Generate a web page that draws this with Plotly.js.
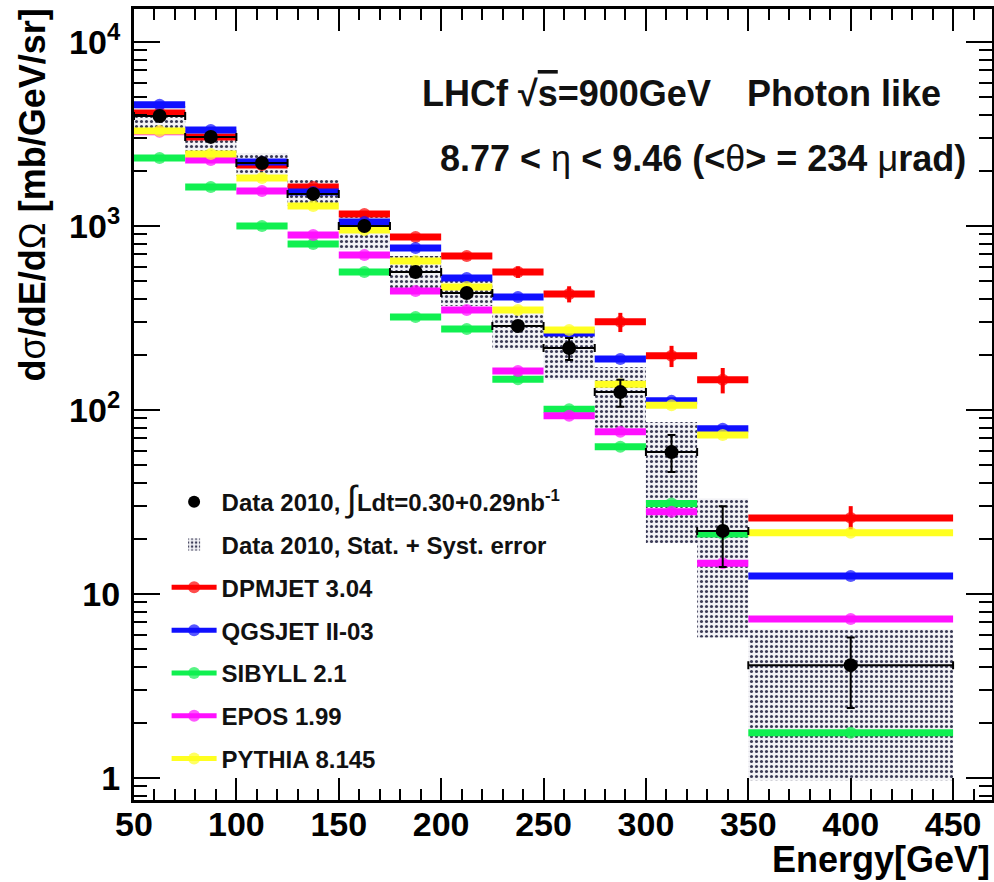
<!DOCTYPE html>
<html>
<head>
<meta charset="utf-8">
<script src="https://cdn.plot.ly/plotly-3.0.1.min.js"></script>
<style>html,body{margin:0;padding:0;background:#fff;}#chart{width:994px;height:882px;}</style>
</head>
<body>
<div id="chart"></div>
<script>
// ---- data ----
const binLow    = [50, 75, 100, 125, 150, 175, 200, 225, 250, 275, 300, 325, 350];
const binHigh   = [75, 100, 125, 150, 175, 200, 225, 250, 275, 300, 325, 350, 450];
const binCenter = [62.5, 87.5, 112.5, 137.5, 162.5, 187.5, 212.5, 237.5, 262.5, 287.5, 312.5, 337.5, 400];

const data2010      = [3960, 3047, 2200, 1493, 1000, 562, 432, 286, 217, 125, 59, 22, 4.1];
const dataErrPlus   = [60, 50, 40, 30, 25, 18, 16, 14, 29, 21, 14, 8, 1.7];
const dataErrMinus  = [60, 50, 40, 30, 25, 18, 16, 14, 30, 21, 13, 8, 1.7];
const sysLow        = [3410, 2494, 1871, 1284, 740, 449, 367, 212, 146, 80, 18.9, 5.8, 0.97];
const sysHigh       = [4487, 3410, 2494, 1778, 1192, 687, 509, 341, 256, 171, 86, 33, 6.4];

const dpmjet  = [4110, 3045, 2146, 1630, 1162, 871, 687, 562, 427, 301, 197, 146, 25.9];
const dpmjetErr = [60, 50, 40, 35, 30, 30, 30, 40, 43, 36, 26, 23, 4.1];
const qgsjet  = [4550, 3325, 2228, 1530, 1052, 759, 522, 411, 262, 189, 112, 79, 12.5];
const sibyll  = [2340, 1630, 1000, 798, 562, 320, 275, 147, 101, 63, 31, 21.2, 1.76];
const epos    = [3250, 2285, 1550, 893, 696, 443, 349, 163, 93, 76, 28, 14.7, 7.3];
const pythia  = [3280, 2460, 1823, 1285, 951, 645, 466, 349, 272, 138, 106, 73, 21.5];

const xTickVals = [50, 100, 150, 200, 250, 300, 350, 400, 450];
const yTickVals = [1, 10, 100, 1000, 10000];
const yTickText = ['1', '10', '10<sup>2</sup>', '10<sup>3</sup>', '10<sup>4</sup>'];

// ---- helpers ----
const FONT = 'Liberation Sans, Arial, Helvetica, sans-serif';
function stepTrace(vals, name, color, rank, errs) {
  const x = [], y = [], s = [], e = [];
  for (let i = 0; i < vals.length; i++) {
    x.push(binLow[i], binCenter[i], binHigh[i], null);
    y.push(vals[i], vals[i], vals[i], null);
    s.push(0, 12, 0, 0);
    e.push(0, errs ? errs[i] : 0, 0, null);
  }
  const t = {
    type: 'scatter', mode: 'lines+markers', name: name, x: x, y: y,
    line: {color: color, width: 7}, marker: {color: color, size: s, line: {width: 0}},
    connectgaps: false, legendgroup: name, legendrank: rank, hoverinfo: 'skip'
  };
  if (errs) t.error_y = {type: 'data', array: e, visible: true, color: color, thickness: 4, width: 0};
  return t;
}

const minorY = [];
[0.1, 1, 10, 100, 1000, 10000].forEach(d => { for (let k = 2; k <= 9; k++) minorY.push(d * k); });

const traces = [];
traces.push({
  type: 'bar', name: 'Data 2010, Stat. + Syst. error',
  x: binCenter, base: sysLow, y: sysHigh.map((h, i) => h - sysLow[i]),
  width: binHigh.map((h, i) => h - binLow[i]),
  marker: {color: '#eeeef3', line: {width: 0},
           pattern: {shape: '.', fgcolor: '#3a3a55', bgcolor: '#f2f2f6', size: 5, solidity: 0.3, fillmode: 'replace'}},
  legendgroup: 'box', legendrank: 2, hoverinfo: 'skip'
});
traces.push(stepTrace(dpmjet, 'DPMJET 3.04', '#ff0000', 3, dpmjetErr));
traces.push(stepTrace(qgsjet, 'QGSJET II-03', '#1010ff', 4));
traces.push(stepTrace(sibyll, 'SIBYLL 2.1', '#10f050', 5));
traces.push(stepTrace(epos, 'EPOS 1.99', '#ff10ff', 6));
traces.push(stepTrace(pythia, 'PYTHIA 8.145', '#ffff20', 7));
traces.push({
  type: 'scatter', mode: 'markers',
  name: 'Data 2010, <span style="font-size:36px;font-weight:normal">∫</span>Ldt=0.30+0.29nb<sup>-1</sup>',
  x: binCenter, y: data2010,
  marker: {color: '#000', size: 14},
  error_x: {type: 'data', array: binHigh.map((h, i) => h - binCenter[i]), symmetric: true, color: '#000', thickness: 2, width: 4},
  error_y: {type: 'data', array: dataErrPlus, arrayminus: dataErrMinus, symmetric: false, color: '#000', thickness: 2, width: 4},
  legendgroup: 'data', legendrank: 1, hoverinfo: 'skip'
});

const axisCommon = {
  showline: true, linecolor: '#000', linewidth: 3, mirror: 'allticks',
  ticks: 'inside', tickcolor: '#000', tickwidth: 2, showgrid: false, zeroline: false,
  tickfont: {family: FONT, size: 34, color: '#000', weight: 'bold'}
};

const layout = {
  width: 994, height: 882,
  margin: {l: 134, r: 2, t: 9, b: 82},
  paper_bgcolor: '#fff', plot_bgcolor: '#fff',
  font: {family: FONT, color: '#000'},
  barmode: 'overlay',
  xaxis: Object.assign({}, axisCommon, {
    range: [50, 469], tickmode: 'array', tickvals: xTickVals, ticklen: 22, ticklabelstandoff: -8,
    minor: {dtick: 10, tick0: 50, ticklen: 11, tickwidth: 2, tickcolor: '#000', ticks: 'inside'}
  }),
  yaxis: Object.assign({}, axisCommon, {
    type: 'log', range: [-0.12, 4.179], tickmode: 'array', tickvals: yTickVals, ticktext: yTickText,
    ticklen: 26, ticklabelstandoff: 4,
    minor: {tickmode: 'array', tickvals: minorY, ticklen: 13, tickwidth: 2, tickcolor: '#000', ticks: 'inside'}
  }),
  showlegend: true,
  legend: {
    x: 0.038, y: 0.405, xanchor: 'left', yanchor: 'top',
    bgcolor: 'rgba(0,0,0,0)', borderwidth: 0,
    font: {family: FONT, size: 24, color: '#111', weight: 'bold'},
    traceorder: 'grouped', tracegroupgap: 8.6, itemwidth: 45, itemsizing: 'constant'
  },
  annotations: [
    {xref: 'paper', yref: 'paper', x: 0, y: 1, xanchor: 'center', yanchor: 'top', xshift: -102, yshift: 2,
     textangle: -90, showarrow: false,
     text: 'd<span style="font-weight:normal">σ</span>/dE/d<span style="font-weight:normal">Ω</span> [mb/GeV/sr]',
     font: {family: FONT, size: 36, color: '#000', weight: 'bold'}},
    {xref: 'paper', yref: 'paper', x: 1, y: 0, xanchor: 'right', yanchor: 'bottom', yshift: -82, showarrow: false,
     text: 'Energy[GeV]', font: {family: FONT, size: 36, color: '#000', weight: 'bold'}},
    {xref: 'paper', yref: 'paper', x: (420 - 134) / 858, y: (800 - 93) / 791, xanchor: 'left', yanchor: 'middle', showarrow: false,
     text: 'LHCf √<span style="text-decoration:overline">s</span>=900GeV', font: {family: FONT, size: 36, color: '#111', weight: 'bold'}},
    {xref: 'paper', yref: 'paper', x: (943 - 134) / 858, y: (800 - 93) / 791, xanchor: 'right', yanchor: 'middle', showarrow: false,
     text: 'Photon like', font: {family: FONT, size: 36, color: '#111', weight: 'bold'}},
    {xref: 'paper', yref: 'paper', x: (968 - 134) / 858, y: (800 - 158) / 791, xanchor: 'right', yanchor: 'middle', showarrow: false,
     text: '8.77 &lt; <span style="font-weight:normal">η</span> &lt; 9.46 (&lt;<span style="font-weight:normal">θ</span>&gt; = 234 <span style="font-weight:normal">μ</span>rad)',
     font: {family: FONT, size: 36, color: '#111', weight: 'bold'}}
  ]
};

Plotly.newPlot('chart', traces, layout, {displayModeBar: false, staticPlot: true});
</script>
</body>
</html>
